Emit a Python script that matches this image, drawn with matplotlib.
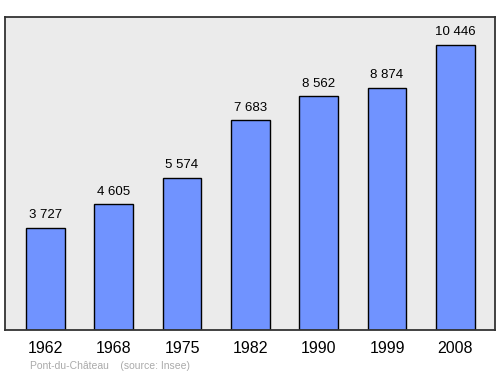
import matplotlib.pyplot as plt

plt.rcParams['font.family'] = ['Liberation Sans', 'DejaVu Sans']

# population data
years = ["1962", "1968", "1975", "1982", "1990", "1999", "2008"]
population = [3727, 4605, 5574, 7683, 8562, 8874, 10446]
value_labels = ["3 727", "4 605", "5 574", "7 683", "8 562", "8 874", "10 446"]

fig = plt.figure(figsize=(5, 3.74), dpi=100)
ax = fig.add_axes([0.01, 0.1176, 0.98, 0.837])
ax.set_facecolor("#ebebeb")

x = range(len(years))
ax.bar(x, population, width=0.57, color="#7093ff", edgecolor="black", linewidth=1, zorder=2)

for xi, v, lab in zip(x, population, value_labels):
    ax.text(xi, v + 250, lab, ha="center", va="bottom", fontsize=9.5)

ax.set_xlim(-0.59, 6.58)
ax.set_ylim(0, 11470)
ax.set_yticks([])
ax.set_xticks(list(x))
ax.set_xticklabels(years, fontsize=11.5)
ax.tick_params(axis="x", length=0, pad=8)
for s in ax.spines.values():
    s.set_linewidth(1.3)
    s.set_color("#333333")

fig.text(0.06, 0.013, "Pont-du-Château    (source: Insee)", fontsize=7.5, color="#aaaaaa")

fig.savefig("out.png")
